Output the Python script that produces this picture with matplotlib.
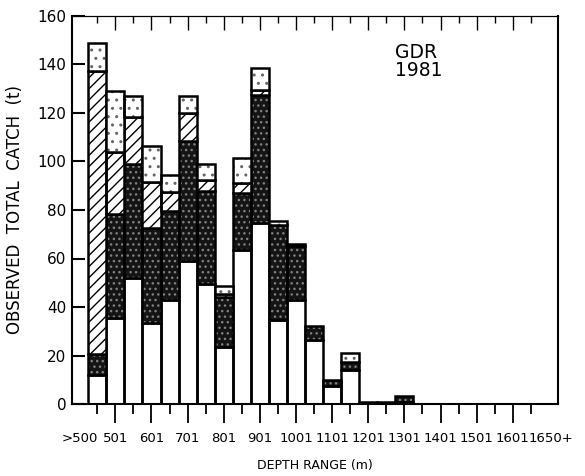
import numpy as np
import matplotlib
matplotlib.use("Agg")
import matplotlib.pyplot as plt

plt.rcParams['font.family'] = ['DejaVu Sans']
plt.rcParams['hatch.linewidth'] = 1.0

# catch per 50 m depth bin, stacked bottom -> top (t)
white = [12, 35.5, 52, 33.5, 43, 59, 49.5, 23.5, 63.5, 74.5, 34.5, 43, 26.5, 7.5, 14,
         0, 0, 1, 0, 0, 0, 0, 0, 0, 0]
dark = [8.5, 43, 47, 39, 36.5, 49.5, 38.5, 20.5, 23.5, 53, 39.5, 22, 5.5, 2.5, 3.5,
        0.8, 0.8, 2.3, 0, 0, 0, 0, 0, 0, 0]
hatched = [117, 25.5, 19.5, 19, 8, 11.5, 4.5, 1.5, 4, 2, 0, 0, 0, 0, 0,
           0, 0, 0, 0, 0, 0, 0, 0, 0, 0]
dotted = [11.5, 25, 8.5, 15, 7, 7, 6.5, 3, 10.5, 9, 1.5, 1, 0, 0, 3.5,
          0, 0, 0, 0, 0, 0, 0, 0, 0, 0]

tick_labels = ['>500', '501', '601', '701', '801', '901', '1001', '1101', '1201',
               '1301', '1401', '1501', '1601', '1650+']
label_pos = [-0.95, 1, 3, 5, 7, 9, 11, 13, 15, 17, 19, 21, 23, 25.1]

x = np.arange(len(white))
layers = [
    (white, dict(color='white', hatch=None)),
    (dark, dict(color='#141414', edgecolor='#808080', hatch='...')),
    (hatched, dict(color='white', edgecolor='black', hatch='///')),
    (dotted, dict(color='white', edgecolor='#666666', hatch='..')),
]

fig = plt.figure(figsize=(5.85, 4.76), dpi=100)
ax = fig.add_axes([72 / 585, 1 - 404 / 476, (558 - 72) / 585, (404 - 16) / 476])

bottom = np.zeros(len(x))
for vals, style in layers:
    vals = np.array(vals, dtype=float)
    m = vals > 0
    ax.bar(x[m], vals[m], bottom=bottom[m], width=1.0, linewidth=0, **style)
    ax.bar(x[m], vals[m], bottom=bottom[m], width=1.0, fill=False,
           edgecolor='black', linewidth=1.8)
    bottom += vals

ax.set_xlim(-1.4, 25.5)
ax.set_ylim(0, 160)
ax.set_yticks(np.arange(0, 161, 20))
ax.tick_params(axis='y', direction='in', length=9, width=1.5, labelsize=11, pad=4)

ax.set_xticks(np.arange(1, 24, 2))
ax.set_xticklabels([])
ax.set_xticks(np.arange(0, 25, 2), minor=True)
ax.tick_params(axis='x', which='major', direction='out', length=14, width=1.3)
ax.tick_params(axis='x', which='minor', direction='out', length=7, width=1.3)
for pos, lab in zip(label_pos, tick_labels):
    ax.text(pos, -0.072, lab, transform=ax.get_xaxis_transform(), ha='center',
            va='top', fontsize=9.5)

top = ax.secondary_xaxis('top')
top.set_xticks(np.arange(1, 24, 2))
top.set_xticks(np.arange(0, 25, 2), minor=True)
top.tick_params(axis='x', which='major', direction='in', length=10, width=1.0,
                labeltop=False)
top.tick_params(axis='x', which='minor', direction='in', length=5, width=1.0)

for s in ['left', 'bottom', 'right']:
    ax.spines[s].set_linewidth(1.5)
ax.spines['top'].set_linewidth(0.8)
top.spines['top'].set_linewidth(0.8)

ax.text(0.665, 0.93, 'GDR\n1981', transform=ax.transAxes, ha='left', va='top',
        fontsize=13.5, linespacing=0.95)

ax.set_ylabel('OBSERVED  TOTAL  CATCH  (t)', fontsize=12, labelpad=10)
ax.set_xlabel('DEPTH RANGE (m)', fontsize=9, labelpad=22)

fig.savefig('out.png', dpi=100)
